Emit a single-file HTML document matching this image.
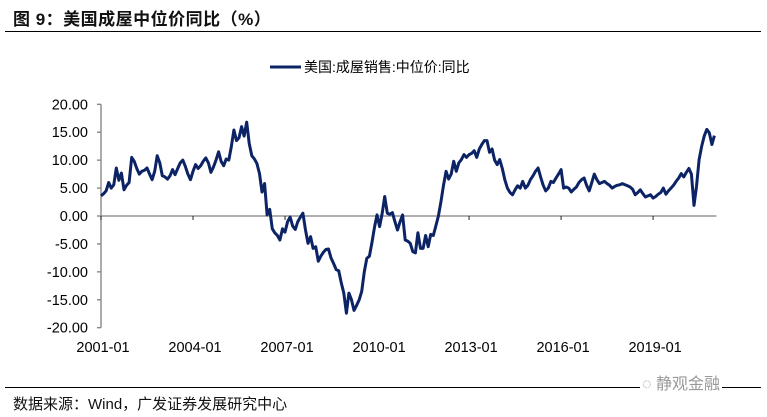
<!DOCTYPE html>
<html><head><meta charset="utf-8"><style>
html,body{margin:0;padding:0;background:#fff;}
body{width:767px;height:417px;overflow:hidden;position:relative;font-family:"Liberation Sans","Noto Sans CJK SC",sans-serif;}
</style></head><body>
<div style="position:absolute;left:13px;top:5px;font-size:17px;font-weight:bold;font-family:'Liberation Sans','Noto Sans CJK SC',sans-serif;color:#111;letter-spacing:0.5px;">图 9：美国成屋中位价同比（%）</div>
<div style="position:absolute;left:5px;top:31px;width:756px;height:1px;background:#000;"></div>
<svg id="chart" width="767" height="417" style="position:absolute;left:0;top:0;" xmlns="http://www.w3.org/2000/svg"></svg>
<div style="position:absolute;left:5px;top:387px;width:756px;height:1px;background:#000;"></div>
<div style="position:absolute;left:13px;top:393px;font-size:15px;color:#111;">数据来源：Wind，广发证券发展研究中心</div>
<div style="position:absolute;left:640px;top:370px;font-size:16px;color:#999;background:#fff;padding:0 2px;">◌ 静观金融</div>
<script>
const yTicks=[20,15,10,5,0,-5,-10,-15,-20];
const xLabels=["2001-01","2004-01","2007-01","2010-01","2013-01","2016-01","2019-01"];
const xLabelMonths=[0,36,72,108,144,180,216];
const seriesName="美国:成屋销售:中位价:同比";
const values=[
3.6,4.0,4.5,6.0,5.0,5.6,8.6,6.4,7.7,4.7,5.5,6.0,
10.5,9.8,8.5,7.5,8.0,8.2,8.6,7.5,6.5,8.0,10.8,9.5,
7.2,7.0,6.6,7.2,8.3,7.4,8.5,9.5,10.0,8.9,7.5,6.5,
8.0,9.2,8.5,9.0,9.8,10.4,9.5,7.8,8.8,10.0,11.5,9.8,
9.0,10.2,10.0,12.5,15.4,13.5,14.0,16.0,14.3,16.8,13.0,10.8,
10.2,9.4,7.6,4.3,5.8,0.2,1.2,-2.3,-3.0,-3.5,-4.3,-2.3,
-2.9,-1.0,-0.2,-1.8,-2.4,-1.0,-0.2,0.5,-2.5,-4.9,-3.7,-5.8,
-5.5,-8.1,-7.2,-6.5,-6.0,-5.9,-7.5,-8.5,-9.6,-9.8,-12.0,-13.8,
-17.4,-13.8,-15.0,-16.9,-16.0,-15.0,-13.5,-10.0,-7.6,-7.2,-4.8,-2.0,
0.2,-1.9,0.5,3.5,0.5,0.3,0.6,-1.0,-2.5,-1.0,0.2,-4.3,
-4.5,-4.9,-6.4,-6.6,-3.0,-5.8,-5.8,-3.5,-5.5,-3.3,-3.5,-1.8,
0.0,2.5,5.5,8.0,6.6,7.5,9.8,8.0,9.5,10.1,11.0,10.5,
11.0,11.2,11.7,10.5,12.0,12.8,13.5,13.5,11.4,12.0,10.0,9.2,
10.1,8.5,6.5,5.0,4.2,3.8,4.7,5.4,5.0,6.2,5.0,5.5,
6.5,7.2,8.0,8.6,7.0,5.5,4.5,5.0,6.2,6.0,6.8,7.5,
8.3,5.0,5.2,5.0,4.3,4.8,5.2,6.0,6.5,6.8,5.5,4.5,
6.0,7.5,6.5,5.8,6.0,6.2,5.8,5.5,5.0,5.3,5.5,5.6,
5.8,5.6,5.4,5.2,4.8,3.8,4.2,4.7,4.0,3.4,3.6,3.8,
3.2,3.5,3.9,4.2,5.0,3.9,4.5,5.0,5.5,6.2,6.8,7.6,
7.0,7.8,8.5,7.5,1.9,5.3,10.1,12.5,14.3,15.5,14.9,12.8,
14.4];
const NS="http://www.w3.org/2000/svg";
const svg=document.getElementById('chart');
const X0=101,PXM=2.556,YTOP=104.3,YBOT=327.7;
function xs(m){return X0+m*PXM;}
function ys(v){return YTOP+(20-v)/40*(YBOT-YTOP);}
function mk(t,a){const e=document.createElementNS(NS,t);for(const k in a)e.setAttribute(k,a[k]);svg.appendChild(e);return e;}
// y axis
let ya=mk('line',{x1:X0,y1:YTOP,x2:X0,y2:YBOT,stroke:'#808080','stroke-width':1.3});


yTicks.forEach(v=>{
  let t=mk('line',{x1:X0-4,y1:ys(v),x2:X0,y2:ys(v),stroke:'#808080','stroke-width':1.3});
  
  
  let l=mk('text',{x:88,y:ys(v)+5,'text-anchor':'end','font-size':14.5,fill:'#000','font-family':'Liberation Sans, sans-serif'});
  l.textContent=v.toFixed(2);
  
  
});
// x axis at zero
let xa=mk('line',{x1:X0,y1:ys(0),x2:xs(values.length-1)+2,y2:ys(0),stroke:'#808080','stroke-width':1.3});


xLabelMonths.forEach((m,i)=>{
  let t=mk('line',{x1:xs(m),y1:ys(0),x2:xs(m),y2:ys(0)+4,stroke:'#222','stroke-width':1});
  
  
  let l=mk('text',{x:xs(m)+2,y:352,'text-anchor':'middle','font-size':14.5,fill:'#000','font-family':'Liberation Sans, sans-serif'});
  l.textContent=xLabels[i];
  
  
});
// series
let d=values.map((v,i)=>(i?'L':'M')+xs(i).toFixed(1)+','+ys(v).toFixed(1)).join('');
let p=mk('path',{d:d,fill:'none',stroke:'#0c2466','stroke-width':3,'stroke-linejoin':'round'});


// legend
let ll=mk('line',{x1:270,y1:67,x2:301,y2:67,stroke:'#0c2466','stroke-width':3});


let lt=mk('text',{x:304,y:72,'font-size':14,fill:'#000','font-family':'Liberation Sans, Noto Sans CJK SC, sans-serif'});
lt.textContent=seriesName;


</script>
</body></html>
